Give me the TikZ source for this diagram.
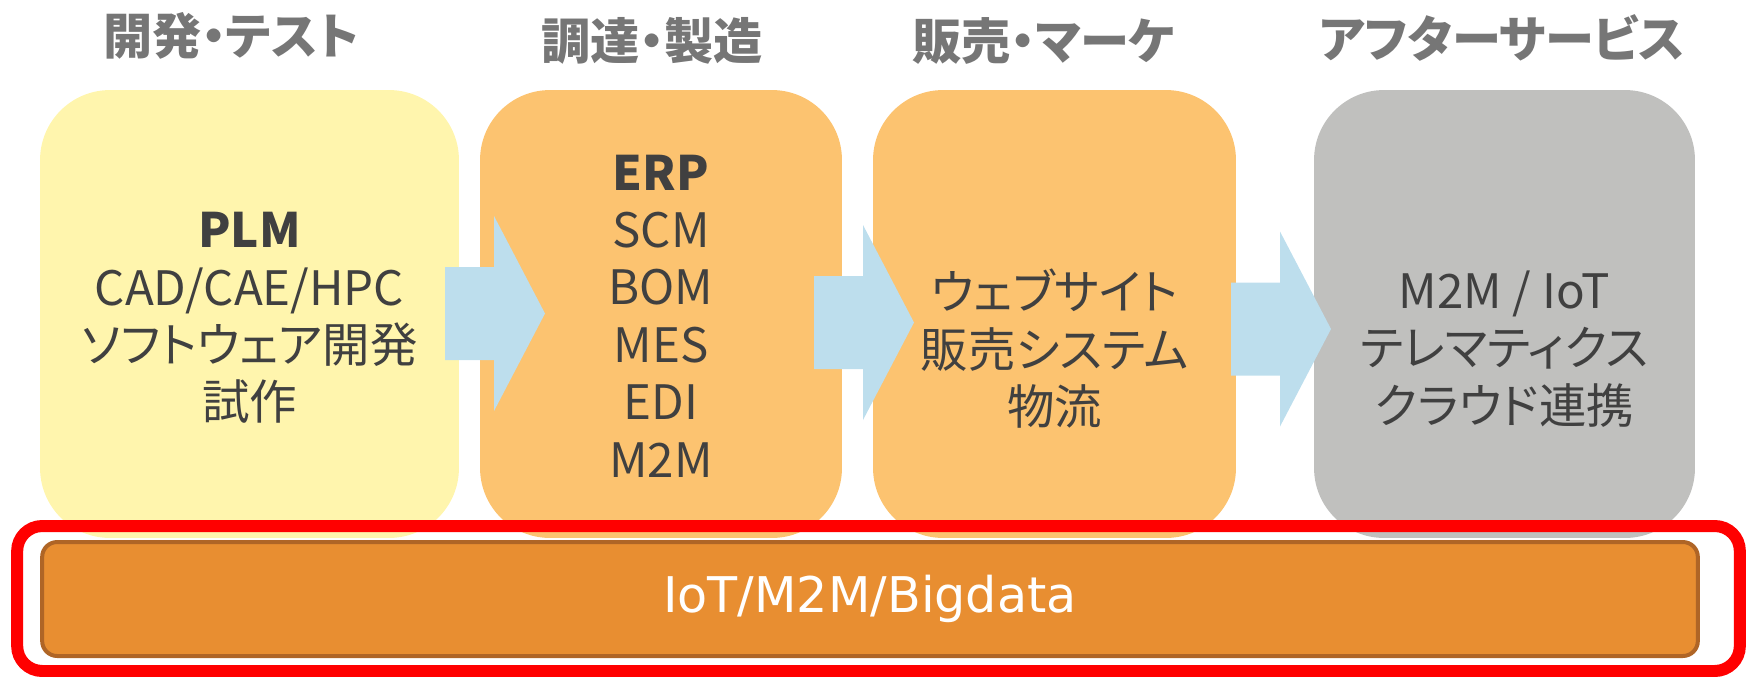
\documentclass[tikz,border=0pt]{standalone}
\usepackage{fontspec}
\setmainfont{Noto Sans CJK JP}[RawFeature=+palt]
\newfontfamily\barfont{DejaVu Sans}
\usepackage{xcolor}
\definecolor{stageYellow}{RGB}{255, 245, 173}
\definecolor{stageOrange}{RGB}{252, 195, 112}
\definecolor{stageGray}{RGB}{192, 192, 190}
\definecolor{flowBlue}{RGB}{189, 222, 237}
\definecolor{barOrange}{RGB}{232, 142, 49}
\definecolor{barBorder}{RGB}{175, 101, 38}
\definecolor{titleGray}{RGB}{118, 118, 118}
\definecolor{textGray}{RGB}{64, 64, 64}

\begin{document}
\begin{tikzpicture}[x=0.02cm, y=-0.02cm,
    stage/.style={rounded corners=1.4cm, minimum height=8.96cm, inner sep=0pt},
    stagetitle/.style={font=\fontsize{28}{32}\selectfont\bfseries, text=titleGray},
    stageitems/.style={font=\fontsize{27}{32.7}\selectfont, text=textGray, align=center}]
    \useasboundingbox (0,0) rectangle (1747,677);
    % stages
    \node[stage, fill=stageYellow, minimum width=8.38cm] (dev) at (249.5,314) {};
    \node[stage, fill=stageOrange, minimum width=7.24cm] (proc) at (661,314) {};
    \node[stage, fill=stageOrange, minimum width=7.26cm] (sale) at (1054.5,314) {};
    \node[stage, fill=stageGray, minimum width=7.62cm] (after) at (1504.5,314) {};
    % flow arrows
    \foreach \ax/\ay in {445/313.5, 814/322.5, 1231/329}
        \fill[flowBlue] (\ax,\ay-46.5) -- ++(49,0) -- ++(0,-51) -- ++(51,97.5)
            -- ++(-51,97.5) -- ++(0,-51) -- ++(-49,0) -- cycle;
    % titles
    \node[stagetitle] (devtitle) at (231,36) {開発・テスト};
    \node[stagetitle] (proctitle) at (652,41) {調達・製造};
    \node[stagetitle] (saletitle) at (1044,41) {販売・マーケ};
    \node[stagetitle] (aftertitle) at (1502,38) {アフターサービス};
    % contents
    \node[stageitems] (devtext) at ([yshift=-0.08cm]dev.center)
        {\textbf{PLM}\\CAD/CAE/HPC\\ソフトウェア開発\\試作};
    \node[stageitems] (proctext) at ([yshift=-0.04cm]proc.center)
        {\textbf{ERP}\\SCM\\BOM\\MES\\EDI\\M2M};
    \node[stageitems] (saletext) at ([yshift=-0.7cm]sale.center)
        {ウェブサイト\\販売システム\\物流};
    \node[stageitems] (aftertext) at ([yshift=-0.7cm]after.center)
        {M2M / IoT\\テレマティクス\\クラウド連携};
    % base layer
    \node[draw=red, line width=0.24cm, rounded corners=0.5cm, minimum width=34.46cm,
        minimum height=2.9cm] (frame) at (878.5,598.5) {};
    \node[draw=barBorder, fill=barOrange, line width=0.08cm, rounded corners=0.3cm,
        minimum width=33.12cm, minimum height=2.28cm, text=white,
        font=\barfont\fontsize{28}{32}\selectfont] (bar) at (870,599) {IoT/M2M/Bigdata};
\end{tikzpicture}
\end{document}
